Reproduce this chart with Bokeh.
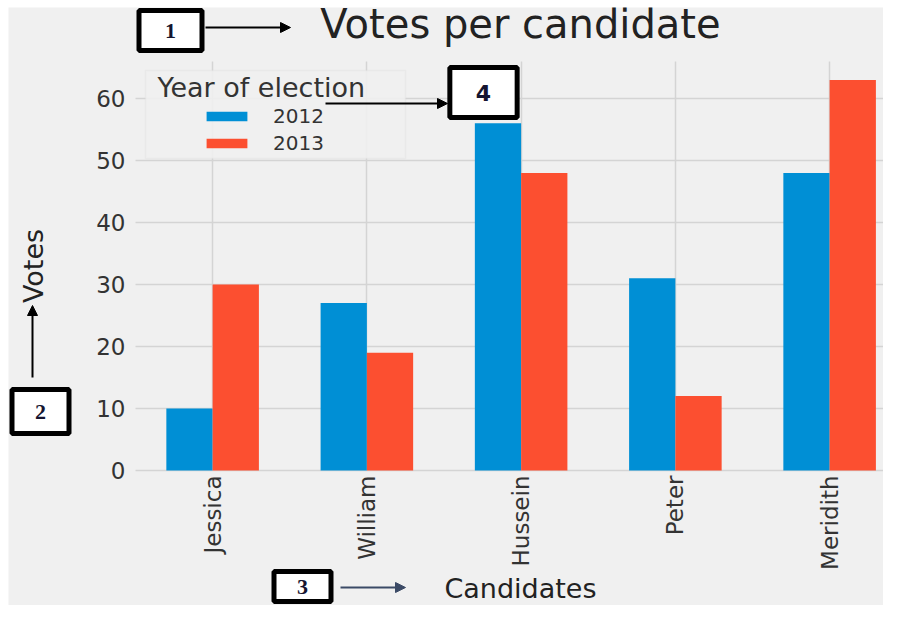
import numpy as np
from bokeh.plotting import figure
from bokeh.models import (Range1d, FixedTicker, Legend, LegendItem, Label,
                          Arrow, NormalHead, BoxAnnotation, Grid)
from bokeh.embed import file_html
from bokeh.resources import INLINE

# ---- data ----
candidates = ["Jessica", "William", "Hussein", "Peter", "Meridith"]
votes_2012 = [10, 27, 56, 31, 48]
votes_2013 = [30, 19, 48, 12, 63]
years = ["2012", "2013"]
y_ticks = [0, 10, 20, 30, 40, 50, 60]

BLUE = "#008fd5"
RED = "#fc4f30"
BG = "#f0f0f0"
GRID = "#d4d4d4"
FONT = "DejaVu Sans"

W, H = 883, 605
ML, MT = 8, 7                  # thin white band left/top as in the reference
# pixel geometry of the inner plotting area (used to place callouts)
PL, PT, PB = 135, 61, 470      # left, top, bottom of the bar area
PX_PER_CAT = 154.25
PX_PER_VOTE = 6.2
XL = -0.5                      # category axis starts half a slot left of the first bar group
YTOP = 66


def dx(px):
    return XL + (px - PL) / PX_PER_CAT


def dy(py):
    return (PB - py) / PX_PER_VOTE


# the frame covers (almost) the whole canvas so the numbered callouts outside
# the bar area are not clipped; the axes are pinned with fixed_location
p = figure(width=W, height=H, output_backend="svg", toolbar_location=None,
           x_range=Range1d(dx(ML), dx(W)), y_range=Range1d(dy(H), dy(MT)),
           min_border=0, min_border_left=ML, min_border_top=MT)
p.background_fill_color = BG
p.border_fill_color = "white"
p.outline_line_color = None

# grid lines limited to the bar area
p.xgrid.visible = False
p.ygrid.visible = False
vgrid = Grid(dimension=0, ticker=FixedTicker(ticks=list(range(len(candidates)))),
             grid_line_color=GRID, grid_line_width=1.5)
hgrid = Grid(dimension=1, ticker=FixedTicker(ticks=y_ticks),
             grid_line_color=GRID, grid_line_width=1.5)
if "cross_bounds" in Grid.properties():
    vgrid.cross_bounds = (0, YTOP)
    hgrid.cross_bounds = (XL, dx(W))
    p.add_layout(vgrid)
    p.add_layout(hgrid)
else:
    n = len(candidates)
    p.segment(x0=list(range(n)), y0=[0] * n, x1=list(range(n)), y1=[YTOP] * n,
              line_color=GRID, line_width=1.5, level="underlay")
    m = len(y_ticks)
    p.segment(x0=[XL] * m, y0=y_ticks, x1=[dx(W)] * m, y1=y_ticks,
              line_color=GRID, line_width=1.5, level="underlay")

xs = np.arange(len(candidates))
r1 = p.vbar(x=xs - 0.15, top=votes_2012, width=0.3, fill_color=BLUE, line_color=None)
r2 = p.vbar(x=xs + 0.15, top=votes_2013, width=0.3, fill_color=RED, line_color=None)

# axes pinned at the edges of the bar area
p.xaxis.fixed_location = 0
p.yaxis.fixed_location = XL
p.xaxis.bounds = (dx(157), dx(W))
p.yaxis.bounds = (0, YTOP)
p.xaxis.ticker = FixedTicker(ticks=list(range(len(candidates))))
p.xaxis.major_label_overrides = {i: c for i, c in enumerate(candidates)}
p.xaxis.major_label_orientation = np.pi / 2
p.yaxis.ticker = FixedTicker(ticks=y_ticks)
for ax in (p.xaxis, p.yaxis):
    ax.axis_line_color = None
    ax.major_tick_line_color = None
    ax.minor_tick_line_color = None
    ax.major_tick_out = 0
    ax.major_tick_in = 0
    ax.minor_tick_out = 0
    ax.minor_tick_in = 0
    ax.major_label_text_font = FONT
    ax.major_label_text_color = "#333333"
    ax.axis_label_text_font = FONT
    ax.axis_label_text_font_style = "normal"
    ax.axis_label_text_color = "#222222"
p.xaxis.major_label_text_font_size = "23px"
p.yaxis.major_label_text_font_size = "23px"
p.xaxis.major_label_standoff = 5
p.yaxis.major_label_standoff = 10
p.xaxis.axis_label = "Candidates"
p.yaxis.axis_label = "Votes"
p.xaxis.axis_label_text_font_size = "27px"
p.yaxis.axis_label_text_font_size = "27px"
p.xaxis.axis_label_standoff = 0
p.yaxis.axis_label_standoff = 44

# chart title
p.add_layout(Label(x=dx(520), y=dy(23), text="Votes per candidate",
                   text_align="center", text_baseline="middle",
                   text_font=FONT, text_font_size="40px", text_color="#222222"))

# legend frame + title
p.add_layout(BoxAnnotation(left=dx(145), right=dx(405), top=dy(70), bottom=dy(158),
                           fill_color=BG, fill_alpha=0.9,
                           line_color="#dadada", line_width=1.5))
p.add_layout(Label(x=dx(157), y=dy(87), text="Year of election",
                   text_align="left", text_baseline="middle",
                   text_font=FONT, text_font_size="27px", text_color="#333333"))
legend = Legend(items=[LegendItem(label=years[0], renderers=[r1]),
                       LegendItem(label=years[1], renderers=[r2])],
                location=(201 - ML, 450), orientation="vertical",
                glyph_width=51, glyph_height=12, label_standoff=21, spacing=3,
                padding=0, margin=0, background_fill_alpha=0, border_line_color=None,
                label_text_font=FONT, label_text_font_size="20px",
                label_text_color="#333333")
p.add_layout(legend)


# numbered callout boxes
def box(num, cx, cy, pad, font="Liberation Serif"):
    p.add_layout(Label(x=dx(cx), y=dy(cy), text=num, text_align="center",
                       text_baseline="middle", text_font=font,
                       text_font_style="bold", text_font_size="22px",
                       text_color="#151530", background_fill_color="white",
                       border_line_color="black", border_line_width=5,
                       padding=pad))


box("1", 170, 30, (26, 13))
box("2", 40, 411, (23, 15))
box("3", 302, 586, (23, 8))
box("4", 483, 92, (26, 17), font="DejaVu Sans")


def arrow(x0, y0, x1, y1, color="black"):
    p.add_layout(Arrow(end=NormalHead(size=10, fill_color=color, line_color=color),
                       x_start=dx(x0), y_start=dy(y0), x_end=dx(x1), y_end=dy(y1),
                       line_color=color, line_width=2))


arrow(205, 27, 290, 27)
arrow(32, 377, 32, 305)
arrow(340, 587, 405, 587, color="#3b4a66")
arrow(325, 103, 447, 103)

open("out.html", "w").write(file_html(p, INLINE))
